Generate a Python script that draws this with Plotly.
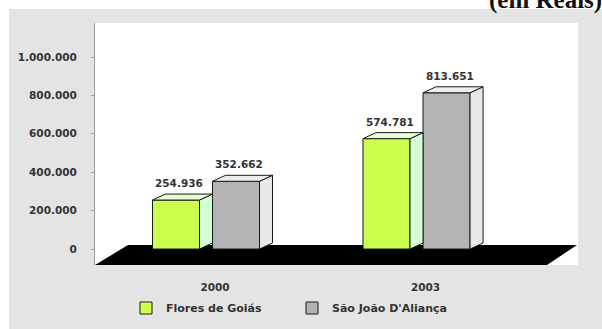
import plotly.graph_objects as go

# Data
years = ["2000", "2003"]
series_names = ["Flores de Goiás", "São João D'Aliança"]
flores_goias = [254936, 574781]
sao_joao = [352662, 813651]
y_tick_values = [0, 200000, 400000, 600000, 800000, 1000000]
y_tick_labels = ["0", "200.000", "400.000", "600.000", "800.000", "1.000.000"]

# Styling
front_colors = ["#ccff4d", "#b3b3b3"]
side_colors = ["#d4ffd4", "#e8e8e8"]
top_colors = ["#e2ffd6", "#ededed"]
edge = "#1a1a1a"
font_family = "DejaVu Sans"

# Geometry (axis units)
bar_w = 0.2233
bar_gap = 0.0618
depth_x = 0.0618
depth_y = 31250
x_range = [-0.5273, 1.767]
y_range = [-83333, 1177083]

cat_pos = list(range(len(years)))
offsets = [-(bar_w + bar_gap) / 2, (bar_w + bar_gap) / 2]
series_values = [flores_goias, sao_joao]


def fmt(v):
    return f"{v:,}".replace(",", ".")


fig = go.Figure()

annotations = []
for s, (name, vals) in enumerate(zip(series_names, series_values)):
    centers = [c + offsets[s] for c in cat_pos]

    # 3D depth faces: right side and top
    sx, sy, tx, ty = [], [], [], []
    for xc, v in zip(centers, vals):
        xl, xr = xc - bar_w / 2, xc + bar_w / 2
        sx += [xr, xr + depth_x, xr + depth_x, xr, xr, None]
        sy += [0, depth_y, v + depth_y, v, 0, None]
        tx += [xl, xl + depth_x, xr + depth_x, xr, xl, None]
        ty += [v, v + depth_y, v + depth_y, v, v, None]
        annotations.append(dict(
            x=xc + 0.015, y=v + depth_y, xref="x", yref="y",
            text=fmt(v), showarrow=False, yanchor="bottom", yshift=3,
            font=dict(family=font_family, size=10.5, color="#333333", weight="bold"),
        ))

    fig.add_trace(go.Scatter(
        x=sx, y=sy, mode="lines", fill="toself", fillcolor=side_colors[s],
        line=dict(color=edge, width=1), showlegend=False, hoverinfo="skip",
    ))
    fig.add_trace(go.Scatter(
        x=tx, y=ty, mode="lines", fill="toself", fillcolor=top_colors[s],
        line=dict(color=edge, width=1), showlegend=False, hoverinfo="skip",
    ))
    fig.add_trace(go.Bar(
        x=centers, y=vals, width=bar_w, name=name,
        marker=dict(color=front_colors[s], line=dict(color=edge, width=1)),
    ))

# Title note
annotations.append(dict(
    x=1, y=1, xref="paper", yref="paper", xanchor="right", yanchor="bottom",
    xshift=26, yshift=7, text="<b>(em Reais)</b>", showarrow=False,
    font=dict(family="Liberation Serif", size=25, color="#111111"),
))

# Paper-space backgrounds and the black 3D floor
plot_l, plot_w, plot_t, plot_h = 95, 483, 23, 242


def px_x(p):
    return (p - plot_l) / plot_w


def px_y(p):
    return (plot_t + plot_h - p) / plot_h


shapes = [
    dict(type="rect", xref="paper", yref="paper", layer="below",
         x0=px_x(9), x1=px_x(603), y0=px_y(9), y1=px_y(330),
         fillcolor="#e4e4e4", line=dict(width=0)),
    dict(type="rect", xref="paper", yref="paper", layer="below",
         x0=0, x1=1, y0=0, y1=1, fillcolor="#ffffff", line=dict(width=0)),
    dict(type="path", xref="paper", yref="paper", layer="below",
         path=(f"M{px_x(95)},{px_y(265)} L{px_x(128)},{px_y(245)} "
               f"L{px_x(577)},{px_y(245)} L{px_x(547)},{px_y(265)} Z"),
         fillcolor="#000000", line=dict(width=0)),
]

fig.update_layout(
    width=602, height=329, autosize=False,
    margin=dict(l=95, r=24, t=23, b=64, autoexpand=False),
    paper_bgcolor="#ffffff", plot_bgcolor="rgba(0,0,0,0)",
    barmode="overlay",
    shapes=shapes, annotations=annotations,
    font=dict(family=font_family, size=10.5, color="#333333"),
    xaxis=dict(
        range=x_range, tickvals=cat_pos, ticktext=years,
        showline=False, showgrid=False, zeroline=False, ticks="",
        ticklabelstandoff=14, ticklabelshift=9,
        tickfont=dict(family=font_family, size=10.5, color="#333333", weight="bold"),
    ),
    yaxis=dict(
        range=y_range, tickvals=y_tick_values, ticktext=y_tick_labels,
        showline=True, linecolor="#a0a0a0", linewidth=1,
        showgrid=False, zeroline=False, ticks="outside", ticklen=3,
        tickcolor="#a0a0a0", ticklabelstandoff=12,
        tickfont=dict(family=font_family, size=10.5, color="#333333", weight="bold"),
    ),
    legend=dict(
        orientation="h", x=px_x(126), y=px_y(308), xanchor="left", yanchor="middle",
        bgcolor="rgba(0,0,0,0)", entrywidth=121, traceorder="normal",
        font=dict(family=font_family, size=11, color="#333333", weight="bold"),
    ),
    showlegend=True,
)

fig.write_html("out.html")
